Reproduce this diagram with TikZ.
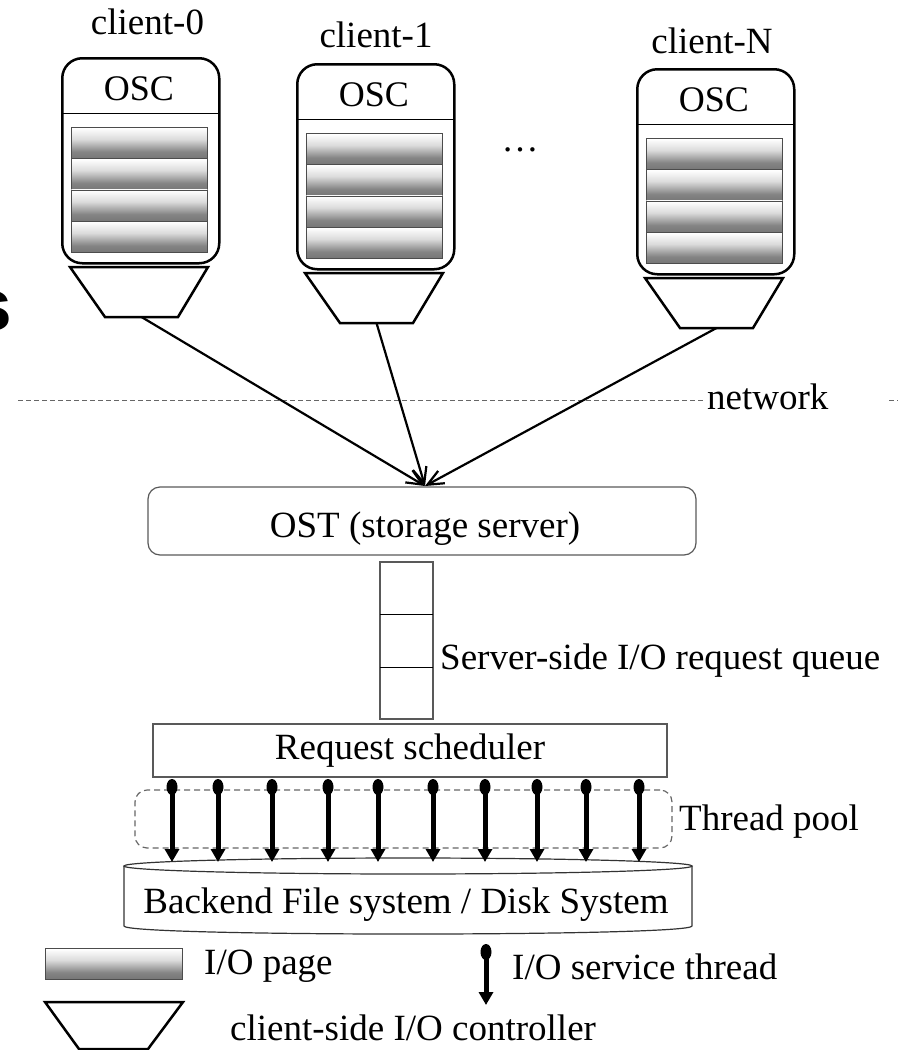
\documentclass[tikz,border=0pt]{standalone}
\usepackage{fontspec}
\setmainfont{Liberation Serif}
\newfontfamily\artsans{Liberation Sans}
\usetikzlibrary{arrows.meta,shapes.geometric,calc}
\pgfdeclareverticalshading{iopageshade}{100bp}{color(0bp)=(black!22); color(22bp)=(black!55); color(36bp)=(black!48); color(56bp)=(black!14); color(74bp)=(white); color(88bp)=(black!10); color(100bp)=(black!30)}
\begin{document}
\begin{tikzpicture}[x=1pt,y=-1pt,
  font=\fontsize{37}{41}\selectfont,
  clientbox/.style={draw, line width=2.5pt, rounded corners=20pt, minimum width=157pt, minimum height=205pt, inner sep=0pt, anchor=north west},
  iopage/.style={draw=black!70, line width=0.6pt, shading=iopageshade, minimum width=136pt, minimum height=31.25pt, inner sep=0pt, anchor=north west},
  ctrl/.style={line width=2.5pt, line join=miter},
  netline/.style={draw=black!60, line width=1pt, dash pattern=on 5pt off 3pt},
  plainbox/.style={draw=black!65, line width=1.2pt, inner sep=0pt},
  lbl/.style={inner sep=0pt, anchor=base},
  lblw/.style={inner sep=0pt, anchor=base west},
  reqarrow/.style={line width=2.2pt, -{Straight Barb[length=16pt,width=14pt,line width=2.2pt]}},
  ball/.style={ellipse, fill=black, minimum width=11pt, minimum height=16pt, inner sep=0pt},
  thr/.style={line width=5pt, -{Triangle[length=13pt,width=14pt]}},
  poolbox/.style={draw=black!60, line width=1.2pt, dash pattern=on 6pt off 4pt, rounded corners=12pt, inner sep=0pt}
]
\useasboundingbox (0,0) rectangle (898,1050);

% cut-off glyph at left edge
\node[inner sep=0pt, anchor=base east, font=\artsans\bfseries\fontsize{73}{80}\selectfont] (sglyph) at (12,330) {s};

% clients: L, T, label x, label baseline, name, label
\foreach \L/\T/\lx/\ly/\nm/\txt in {61/57/147.5/34/c0/client-0, 296/63/376/47/c1/client-1, 636/68/712/53/cN/client-N}{
  \node[lbl] (\nm lab) at (\lx,\ly) {\txt};
  \node[clientbox] (\nm box) at (\L,\T) {};
  \draw[line width=1pt] (\L,\T+56) -- (\L+157,\T+56);
  \node[lbl, font=\fontsize{36}{40}\selectfont] (\nm osc) at (\L+78,\T+43) {OSC};
  \foreach \k in {0,1,2,3}{
    \node[iopage] (\nm p\k) at (\L+10,\T+70+31.25*\k) {};
  }
  \draw[ctrl] (\L+9,\T+210) -- (\L+147,\T+210) -- (\L+117,\T+260) -- (\L+44,\T+260) -- cycle;
  \coordinate (\nm ctl) at (\L+80.5,\T+260);
}
\node[inner sep=0pt] (dots) at (520,150) {\ldots};

% network line
\draw[netline] (18,400) -- (705,400);
\draw[netline] (889,400) -- (898,400);
\node[lblw] (netlab) at (707,409) {network};

% OST
\node[plainbox, rounded corners=12pt, minimum width=548pt, minimum height=68pt] (ost) at (422,521) {};
\node[lbl] (osttext) at (425,537) {OST (storage server)};
\coordinate (ostin) at (425,486);
\foreach \nm in {c0,c1,cN}{
  \draw[reqarrow] (\nm ctl) -- (ostin);
}

% queue
\node[plainbox, minimum width=53pt, minimum height=157pt] (queue) at (406.5,640.5) {};
\draw[line width=1pt] (380,614) -- (433,614);
\draw[line width=1pt] (380,667) -- (433,667);
\node[lblw] (qlab) at (440,669) {Server-side I/O request queue};

% scheduler
\node[plainbox, minimum width=514pt, minimum height=53pt] (sched) at (410,750.5) {};
\node[lbl] (schedtext) at (410,759) {Request scheduler};

% thread pool
\node[poolbox, minimum width=537pt, minimum height=58pt] (pool) at (403.5,819) {};
\node[lblw] (poollab) at (679,830) {Thread pool};

% backend cylinder
\draw[line width=1.2pt, draw=black!80] (124,866) -- (124,926) .. controls (124,936.7) and (692,936.7) .. (692,926) -- (692,866);
\draw[line width=1.2pt, draw=black!80] (408,866) ellipse[x radius=284pt, y radius=8pt];
\node[lbl] (backend) at (406,913) {Backend File system / Disk System};

% threads
\foreach \x [count=\i] in {172,218,272,328,378,433,485,537,586,639}{
  \node[ball] (t\i) at (\x,787) {};
  \coordinate (e\i) at (\x,862);
  \draw[thr] (t\i.center) -- (e\i);
}

% legend
\node[iopage, minimum width=137pt, minimum height=31pt] (legpage) at (45,948) {};
\node[lblw] (legpagetext) at (204,974) {I/O page};
\draw[ctrl] (45,1002) -- (183,1002) -- (148,1049) -- (79,1049) -- cycle;
\node[lblw] (legctrltext) at (230,1040) {client-side I/O controller};
\node[ball] (legball) at (486,952) {};
\coordinate (legend) at (486,1005);
\draw[thr] (legball.center) -- (legend);
\node[lblw] (legthrtext) at (512,979) {I/O service thread};
\end{tikzpicture}
\end{document}
